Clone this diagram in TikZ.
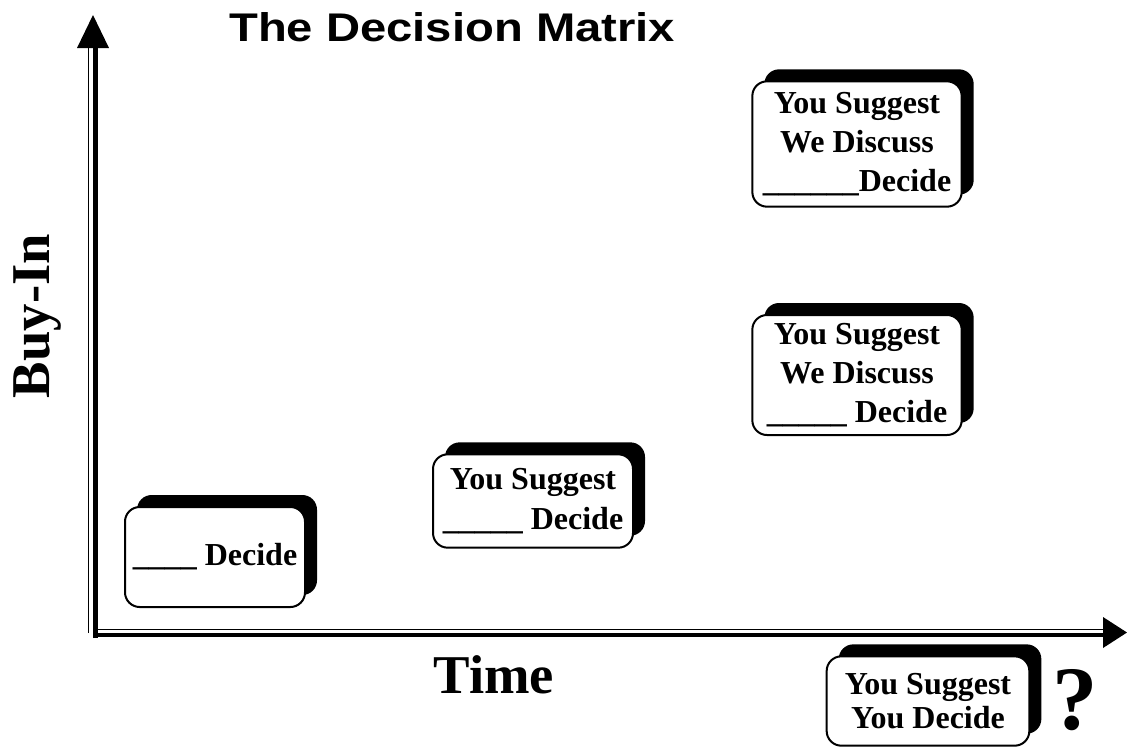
\documentclass[tikz,border=0pt]{standalone}
\usepackage{fontspec}
\setmainfont{Liberation Serif}
\newfontfamily\headfont{Liberation Sans}
\usepackage{graphicx}
\usetikzlibrary{shadows}

\tikzset{
  choice/.style={draw, line width=1.5pt, rounded corners=11pt, fill=white,
    align=center, inner sep=0pt,
    font=\bfseries\fontsize{24}{29.5}\selectfont,
    drop shadow={shadow xshift=9pt, shadow yshift=9pt, fill=black, opacity=1}},
  axislabel/.style={inner sep=0pt, font=\bfseries\fontsize{41}{48}\selectfont}
}

\begin{document}
\begin{tikzpicture}[x=0.75pt, y=-0.75pt]
  \useasboundingbox (0,0) rectangle (1127,747);

  % Title
  \node[anchor=base west, inner sep=0pt] (title) at (229,41)
    {\headfont\bfseries\fontsize{30}{36}\selectfont\scalebox{1.18}[1]{The Decision Matrix}};

  % Vertical axis
  \draw[line width=1.1pt] (88.5,633) -- (88.5,46);
  \draw[line width=3.4pt] (95.5,638) -- (95.5,46);
  \fill (93,15) -- (77,48) -- (109,48) -- cycle;

  % Horizontal axis
  \draw[line width=1.1pt] (98,629.5) -- (1105,629.5);
  \draw[line width=3.4pt] (93,635) -- (1105,635);
  \fill (1127,632.5) -- (1103,617) -- (1103,648) -- cycle;

  % Axis labels
  \node[axislabel, rotate=90] (buyin) at (38,316) {Buy-In};
  \node[axislabel, anchor=base] (time) at (494,693) {Time};

  % Decision boxes
  \node[choice, minimum width=135pt, minimum height=75pt] (tell) at (215,557)
    {\_\_\_\_ Decide};
  \node[choice, minimum width=150pt, minimum height=70pt] (sell) at (533,501)
    {You Suggest\\\_\_\_\_\_ Decide};
  \node[choice, minimum width=157pt, minimum height=90pt] (consult) at (857,375)
    {You Suggest\\We Discuss\\\_\_\_\_\_ Decide};
  \node[choice, minimum width=157pt, minimum height=94pt] (join) at (857,144)
    {You Suggest\\We Discuss\\\_\_\_\_\_\_Decide};
  \node[choice, minimum width=152pt, minimum height=67pt,
    font=\bfseries\fontsize{24}{26}\selectfont] (delegate) at (928,701)
    {You Suggest\\You Decide};

  \node[anchor=base, inner sep=0pt, font=\bfseries\fontsize{68}{76}\selectfont]
    (query) at (1075,729) {?};
\end{tikzpicture}
\end{document}
